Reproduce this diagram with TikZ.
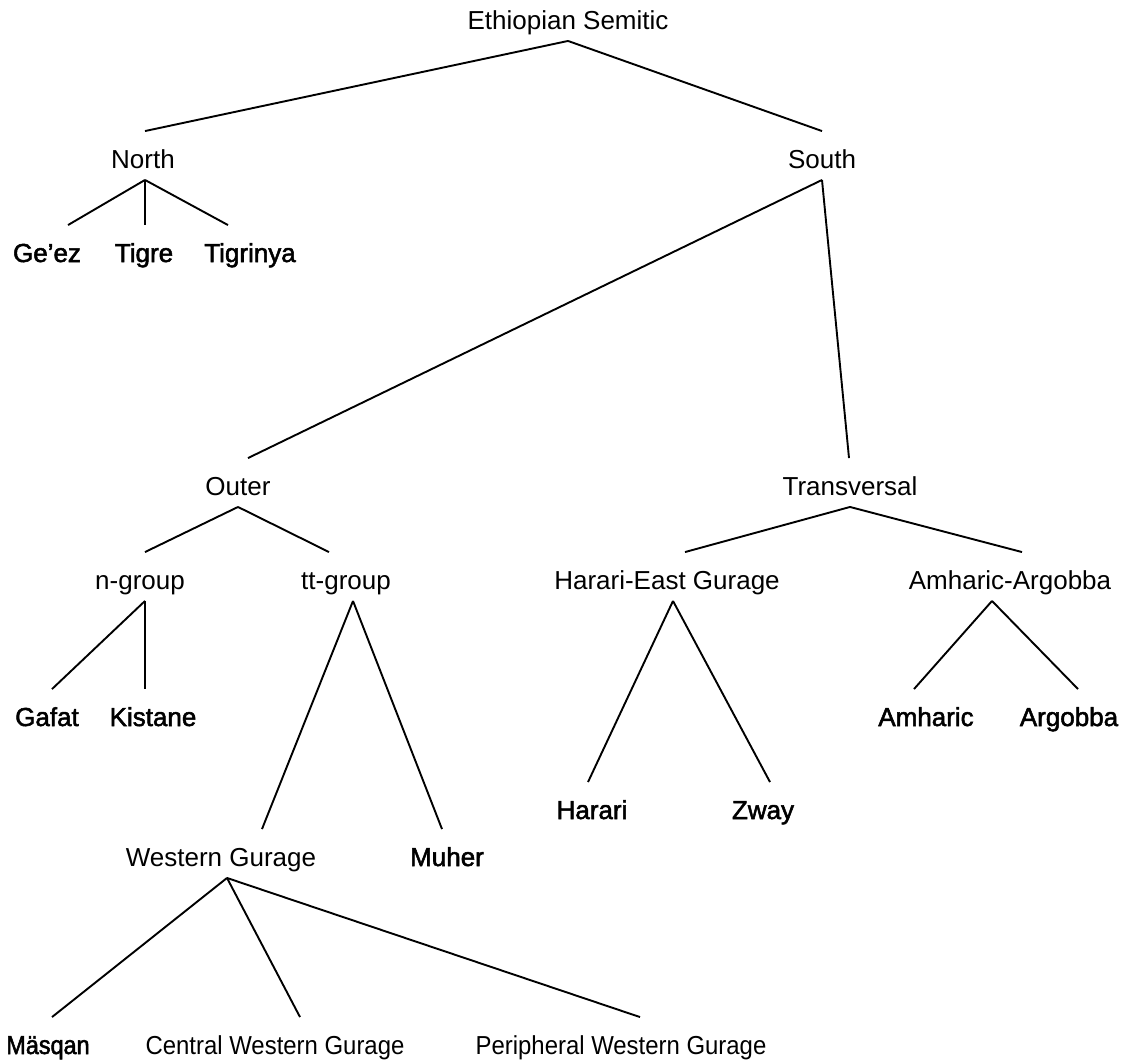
\documentclass[tikz,border=0pt]{standalone}
\usepackage{fontspec}
\setmainfont{Liberation Sans}
\newfontfamily\leaffont[FakeBold=2]{Liberation Sans}
\newfontfamily\narrowfont[FakeStretch=0.92]{Liberation Sans}
\newfontfamily\narrowleaffont[FakeBold=2, FakeStretch=0.9]{Liberation Sans}
\usepackage{tikz}

\begin{document}
\begin{tikzpicture}[x=1pt, y=-1pt,
	grp/.style={anchor=base, inner xsep=0pt, inner ysep=0pt, text height=36pt, text depth=11pt, font=\fontsize{26pt}{30pt}\selectfont},
	leaf/.style={grp, font=\fontsize{26pt}{30pt}\leaffont},
	every path/.style={line width=1.9pt}]
	\useasboundingbox (0,0) rectangle (1129,1061);
	% top levels
	\node[grp] (es) at (568, 29) {Ethiopian Semitic};
	\node[grp] (north) at (143, 168) {North};
	\node[grp] (south) at (822, 168) {South};
	\draw (es.south) -- ([xshift=2pt]north.north);
	\draw (es.south) -- (south.north);
	% north branch
	\node[leaf] (geez) at (47, 262) {Ge’ez};
	\node[leaf] (tigre) at (144, 262) {Tigre};
	\node[leaf] (tigrinya) at (250, 262) {Tigrinya};
	\draw ([xshift=2pt]north.south) -- ([xshift=21pt]geez.north);
	\draw ([xshift=2pt]north.south) -- ([xshift=1pt]tigre.north);
	\draw ([xshift=2pt]north.south) -- ([xshift=-22pt]tigrinya.north);
	% south branch
	\node[grp] (outer) at (238, 495) {Outer};
	\node[grp] (trans) at (850, 495) {Transversal};
	\draw (south.south) -- ([xshift=10pt]outer.north);
	\draw (south.south) -- ([xshift=-1pt]trans.north);
	% outer
	\node[grp] (ngroup) at (140, 589) {n-group};
	\node[grp] (ttgroup) at (346, 589) {tt-group};
	\draw (outer.south) -- ([xshift=5pt]ngroup.north);
	\draw (outer.south) -- ([xshift=-17pt]ttgroup.north);
	\node[leaf] (gafat) at (47, 726) {Gafat};
	\node[leaf] (kistane) at (153, 726) {Kistane};
	\draw ([xshift=5pt]ngroup.south) -- ([xshift=5pt]gafat.north);
	\draw ([xshift=5pt]ngroup.south) -- ([xshift=-8pt]kistane.north);
	\node[grp] (wgurage) at (221, 866) {Western Gurage};
	\node[leaf] (muher) at (447, 866) {Muher};
	\draw ([xshift=7pt]ttgroup.south) -- ([xshift=41pt]wgurage.north);
	\draw ([xshift=7pt]ttgroup.south) -- ([xshift=-5pt]muher.north);
	\node[grp, font=\fontsize{26pt}{30pt}\narrowleaffont] (masqan) at (48, 1054) {Mäsqan};
	\node[grp, font=\fontsize{26pt}{30pt}\narrowfont] (cwg) at (275, 1054) {Central Western Gurage};
	\node[grp, font=\fontsize{26pt}{30pt}\narrowfont] (pwg) at (621, 1054) {Peripheral Western Gurage};
	\draw ([xshift=6pt]wgurage.south) -- ([xshift=4pt]masqan.north);
	\draw ([xshift=6pt]wgurage.south) -- ([xshift=25pt]cwg.north);
	\draw ([xshift=6pt]wgurage.south) -- ([xshift=19pt]pwg.north);
	% transversal
	\node[grp] (heg) at (667, 589) {Harari-East Gurage};
	\node[grp] (aa) at (1010, 589) {Amharic-Argobba};
	\draw (trans.south) -- ([xshift=18pt]heg.north);
	\draw (trans.south) -- ([xshift=12pt]aa.north);
	\node[leaf] (harari) at (592, 819) {Harari};
	\node[leaf] (zway) at (763, 819) {Zway};
	\draw ([xshift=6pt]heg.south) -- ([xshift=-4pt]harari.north);
	\draw ([xshift=6pt]heg.south) -- ([xshift=7pt]zway.north);
	\node[leaf] (amharic) at (926, 726) {Amharic};
	\node[leaf] (argobba) at (1069, 726) {Argobba};
	\draw ([xshift=-18pt]aa.south) -- ([xshift=-12pt]amharic.north);
	\draw ([xshift=-18pt]aa.south) -- ([xshift=9pt]argobba.north);
\end{tikzpicture}
\end{document}
